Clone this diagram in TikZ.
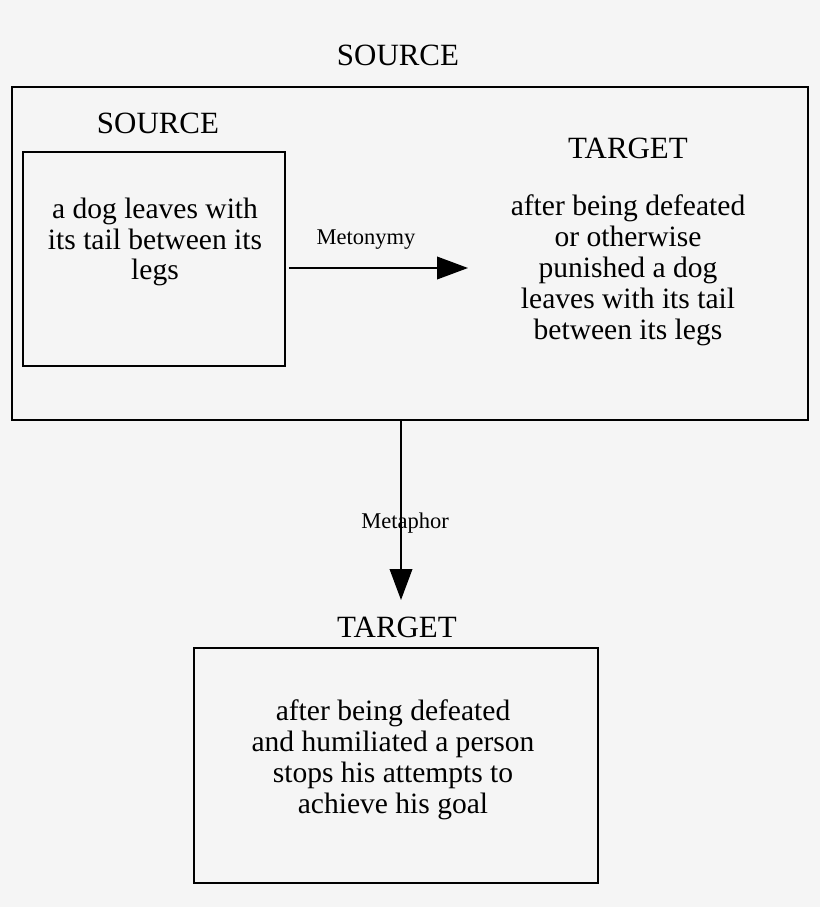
\documentclass[tikz,border=0pt]{standalone}
\usepackage{fontspec}
\setmainfont{Liberation Serif}
\usetikzlibrary{positioning,arrows.meta}

\begin{document}
\begin{tikzpicture}[x=0.025cm,y=-0.025cm]
  \tikzset{box/.style = {draw, line width=1.4pt, inner sep=0pt},
           txt/.style = {align=center, font=\fontsize{21pt}{22pt}\selectfont},
           head/.style = {font=\fontsize{22pt}{24pt}\selectfont},
           rel/.style = {font=\fontsize{16pt}{18pt}\selectfont},
           link/.style = {line width=1.4pt, -{Triangle[length=22pt,width=16pt]}}}

  % fond
  \fill[black!4] (0,0) rectangle (820,907);
  \useasboundingbox (0,0) rectangle (820,907);

  % cadres
  \node[box, minimum width=796*0.025cm, minimum height=333*0.025cm] (outer) at (410,253.5) {};
  \node[box, minimum width=262*0.025cm, minimum height=214*0.025cm] (src) at (154,259) {};
  \node[box, minimum width=404*0.025cm, minimum height=235*0.025cm] (goal) at (396,765.5) {};

  % textes
  \node[head] (outerlabel) at (398,55) {SOURCE};
  \node[head] (srclabel) at (158,123) {SOURCE};
  \node[head] (tgtlabel) at (628,148) {TARGET};
  \node[head] (goallabel) at (397,627) {TARGET};
  \node[txt] (srctext) at (155,242) {a dog leaves with\\its tail between its\\legs};
  \node[txt] (tgttext) at (628,270) {after being defeated\\or otherwise\\punished a dog\\leaves with its tail\\between its legs};
  \node[txt] (goaltext) at (393,760) {after being defeated\\and humiliated a person\\stops his attempts to\\achieve his goal};

  % fleches
  \coordinate (tip) at (468,268);
  \draw[link, shorten <=2pt] (src.east |- tip) -- (tip);
  \node[rel] (metonymy) at (366,240) {Metonymy};
  \coordinate (down) at (401,420);
  \draw[link] (down) -- (down |- 0,600);
  \node[rel] (metaphor) at (405,523) {Metaphor};
\end{tikzpicture}
\end{document}
